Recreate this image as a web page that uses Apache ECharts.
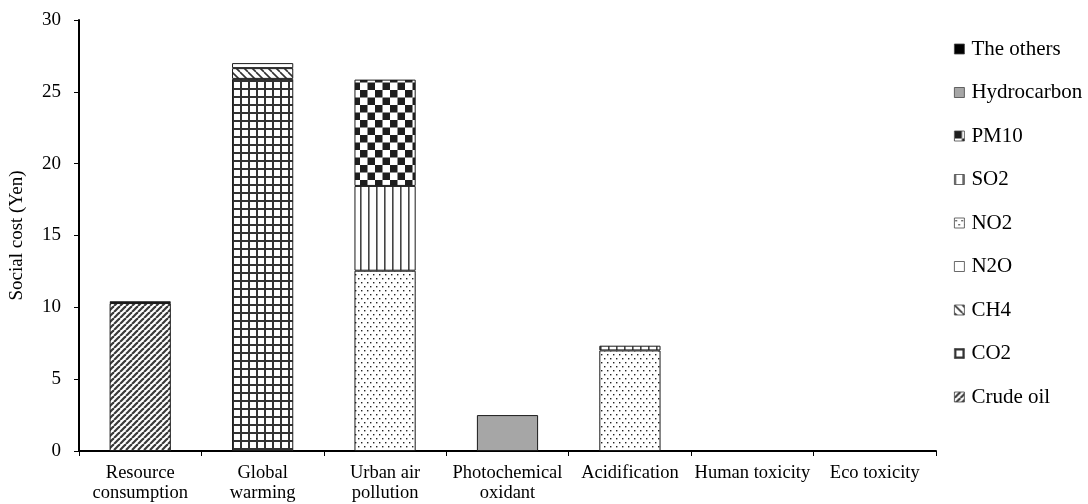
<!DOCTYPE html>
<html>
<head>
<meta charset="utf-8">
<script src="https://cdn.jsdelivr.net/npm/echarts@6/dist/echarts.min.js"></script>
<style>
  html, body { margin: 0; padding: 0; background: #fff; }
  #chart { width: 1088px; height: 504px; }
</style>
</head>
<body>
<div id="chart"></div>
<script>
// Impact categories on the x axis
var categories = ['Resource\nconsumption', 'Global\nwarming', 'Urban air\npollution',
  'Photochemical\noxidant', 'Acidification', 'Human toxicity', 'Eco toxicity'];

// Social cost contribution (Yen) of each substance per category
var crudeOil    = [10.3, null, null, null, null, null, null];
var co2         = [null, 25.9, null, null, null, null, null];
var ch4         = [null, 0.75, null, null, null, null, null];
var n2o         = [null, 0.35, null, null, null, null, null];
var no2         = [null, null, 12.55, null, 7.0, null, null];
var so2         = [null, null, 5.9, null, 0.33, null, null];
var pm10        = [null, null, 7.4, null, null, null, null];
var hydrocarbon = [null, null, null, 2.5, null, null, null];
var theOthers   = [0.12, null, null, null, null, null, null];

var yTicks = { min: 0, max: 30, interval: 5 };

// Small repeating tiles used as fill patterns
function tile(w, h, draw) {
  var c = document.createElement('canvas');
  c.width = w; c.height = h;
  var g = c.getContext('2d');
  g.fillStyle = '#fff';
  g.fillRect(0, 0, w, h);
  draw(g, w, h);
  return { image: c, repeat: 'repeat' };
}

var patCrude = tile(6, 6, function (g, w, h) {
  g.strokeStyle = '#3a3a3a'; g.lineWidth = 2.2;
  for (var k = -1; k <= 1; k++) {
    g.beginPath(); g.moveTo(k * w, h); g.lineTo(k * w + w, 0); g.stroke();
  }
});
var patCO2 = tile(8, 8, function (g) {
  g.fillStyle = '#333';
  g.fillRect(0, 0, 8, 2);
  g.fillRect(0, 0, 2, 8);
});
var patCH4 = tile(8, 8, function (g, w, h) {
  g.strokeStyle = '#333'; g.lineWidth = 1.6;
  for (var k = -1; k <= 1; k++) {
    g.beginPath(); g.moveTo(k * w, 0); g.lineTo(k * w + w, h); g.stroke();
  }
});
var patNO2 = tile(6, 8, function (g) {
  g.fillStyle = '#222';
  g.fillRect(1, 2, 1.4, 1.4);
  g.fillRect(4, 6, 1.4, 1.4);
});
var patSO2 = tile(8, 4, function (g) {
  g.fillStyle = '#444';
  g.fillRect(0, 0, 1.6, 4);
});
var patPM10 = tile(15, 15, function (g) {
  g.fillStyle = '#1e1e1e';
  g.fillRect(0, 0, 7.5, 7.5);
  g.fillRect(7.5, 7.5, 7.5, 7.5);
});

var FONT = '"Liberation Serif", "Times New Roman", serif';

function barSeries(name, data, fill) {
  return {
    name: name,
    type: 'bar',
    stack: 'total',
    barWidth: '50%',
    data: data,
    itemStyle: { color: fill, borderColor: '#1a1a1a', borderWidth: 1 }
  };
}

var option = {
  animation: false,
  backgroundColor: '#fff',
  grid: { left: 78, right: 152, top: 20, bottom: 53 },
  legend: {
    orient: 'vertical',
    left: 949,
    top: 33.5,
    itemWidth: 10,
    itemHeight: 10,
    itemGap: 22.5,
    icon: 'rect',
    itemStyle: { borderWidth: 0.8, borderColor: '#444' },
    textStyle: { fontFamily: FONT, fontSize: 21, color: '#000', padding: [0, 0, 0, 2] },
    data: ['The others', 'Hydrocarbon', 'PM10', 'SO2', 'NO2', 'N2O', 'CH4', 'CO2', 'Crude oil']
  },
  xAxis: {
    type: 'category',
    data: categories,
    axisLine: { lineStyle: { color: '#000', width: 2 } },
    axisTick: { show: true, alignWithLabel: false, length: 5, lineStyle: { color: '#000' } },
    axisLabel: { fontFamily: FONT, fontSize: 18.5, color: '#000', margin: 12, lineHeight: 20, interval: 0 }
  },
  yAxis: {
    type: 'value',
    min: yTicks.min,
    max: yTicks.max,
    interval: yTicks.interval,
    name: 'Social cost (Yen)',
    nameLocation: 'middle',
    nameGap: 52,
    nameTextStyle: { fontFamily: FONT, fontSize: 19, color: '#000' },
    axisLine: { show: true, lineStyle: { color: '#000', width: 2 } },
    axisTick: { show: true, length: 5, lineStyle: { color: '#000' } },
    axisLabel: { fontFamily: FONT, fontSize: 19, color: '#000', margin: 18 },
    splitLine: { show: false }
  },
  series: [
    barSeries('Crude oil', crudeOil, patCrude),
    barSeries('CO2', co2, patCO2),
    barSeries('CH4', ch4, patCH4),
    barSeries('N2O', n2o, '#ffffff'),
    barSeries('NO2', no2, patNO2),
    barSeries('SO2', so2, patSO2),
    barSeries('PM10', pm10, patPM10),
    barSeries('Hydrocarbon', hydrocarbon, '#a6a6a6'),
    barSeries('The others', theOthers, '#000000')
  ]
};

var chart = echarts.init(document.getElementById('chart'), null, { renderer: 'canvas' });
chart.setOption(option);
</script>
</body>
</html>
